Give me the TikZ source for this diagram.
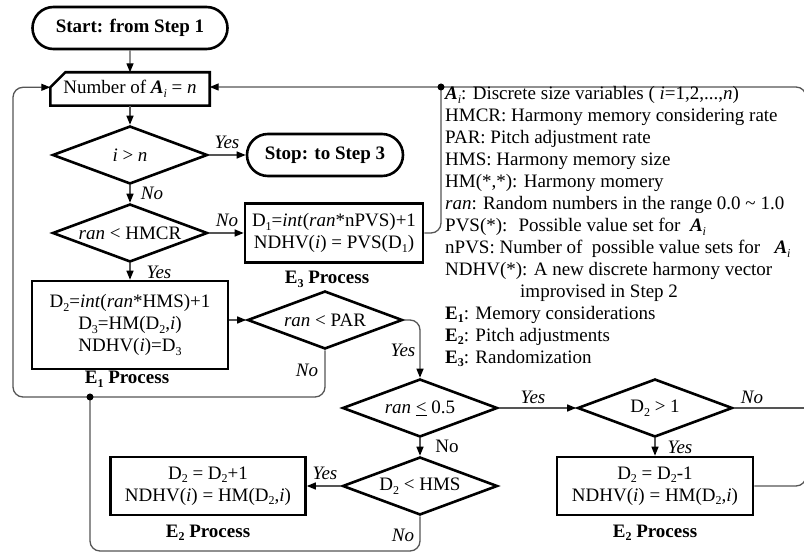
\documentclass[tikz,border=0pt]{standalone}
\usepackage{fontspec}
\setmainfont{Liberation Serif}
\usetikzlibrary{shapes.geometric, shapes.misc, arrows.meta, calc}
\definecolor{linegray}{RGB}{85,85,85}
\newcommand{\dn}[1]{\raisebox{-0.4ex}{\fontsize{12}{12}\selectfont #1}}
\newcommand{\Ai}{\textbf{\textit{A}}\dn{\textit{i}}}
\newcommand{\tdots}{...}
\tikzset{
    termnode/.style={
        rounded rectangle,
        draw, % 粗边框
        line width=2.6pt,
        minimum height=42pt,
        inner sep=0,
        font=\fontsize{19}{22}\selectfont\bfseries
    },
    procnode/.style={
        rectangle,
        draw,
        line width=2.6pt,
        align=center,
        inner sep=0
    },
    decnode/.style={
        diamond,
        draw,
        line width=2.6pt,
        minimum width=155pt,
        minimum height=58pt,
        aspect=2.67,
        inner sep=0
    },
    txtnode/.style={inner sep=0, font=\fontsize{19}{22}\selectfont\itshape},
    procname/.style={inner sep=0, anchor=base, font=\fontsize{19}{22}\selectfont\bfseries},
    legnode/.style={anchor=base west, inner sep=0},
    flow/.style={draw=linegray, line width=1.3pt, -{Triangle[length=9pt, width=7pt, color=black]}},
    link/.style={draw=linegray, line width=1.3pt}
}
\begin{document}
\begin{tikzpicture}[
                x=1pt, y=-1pt,
                every node/.style={font=\fontsize{19}{22}\selectfont}
            ]
            \useasboundingbox (0,0) rectangle (804,553);
            \clip (0,0) rectangle (804,553);
            % 主流程
            \node[termnode, minimum width=195pt] (start) at (130,28) {Start: from Step 1};
            \node[minimum width=159pt, minimum height=33pt, inner sep=0] (num) at (130,89)
                {Number of \Ai{} = \textit{n}};
            \draw[line width=2.6pt] ($(num.north west)+(15,0)$) -- (num.north east) -- (num.south east)
                -- (num.south west) -- ($(num.north west)+(0,15)$) -- cycle;
            \coordinate (numL) at ($(num.north west)+(0,15)$);
            \coordinate (numR) at ($(num.east)+(0,-2)$);
            \node[decnode] (dn1) at (130,155) {\textit{i} > \textit{n}};
            \node[termnode, minimum width=156pt] (stop) at (325,155) {Stop: to Step 3};
            \node[decnode] (dn2) at (130,233) {\textit{ran} < HMCR};
            \node[procnode, minimum width=178pt, minimum height=59pt] (pr3) at (334,233)
                {D\dn{1}=\textit{int}(\textit{ran}*nPVS)+1\\NDHV(\textit{i}) = PVS(D\dn{1})};
            \node[procnode, minimum width=196pt, minimum height=88pt] (pr1) at (130,325)
                {D\dn{2}=\textit{int}(\textit{ran}*HMS)+1\\D\dn{3}=HM(D\dn{2},\textit{i})\\NDHV(\textit{i})=D\dn{3}};
            \node[decnode] (dn3) at (325,320) {\textit{ran} < PAR};
            \node[decnode] (dn4) at (420,408) {\textit{ran} \underline{<} 0.5};
            \node[decnode] (dn5) at (420,486) {D\dn{2} < HMS};
            \node[procnode, minimum width=195pt, minimum height=58pt] (pr2a) at (208,486)
                {D\dn{2} = D\dn{2}+1\\NDHV(\textit{i}) = HM(D\dn{2},\textit{i})};
            \node[decnode] (dn6) at (655,408) {D\dn{2} > 1};
            \node[procnode, minimum width=196pt, minimum height=58pt] (pr2b) at (655,486)
                {D\dn{2} = D\dn{2}-1\\NDHV(\textit{i}) = HM(D\dn{2},\textit{i})};
            % 过程名称
            \node[procname] (e3) at (327,284) {E\dn{3} Process};
            \node[procname] (e1) at (127,384) {E\dn{1} Process};
            \node[procname] (e2a) at (208,537) {E\dn{2} Process};
            \node[procname] (e2b) at (655,537) {E\dn{2} Process};
            % 连线
            \coordinate (dotT) at (441,87);
            \coordinate (dotL) at (90,397);
            \draw[flow] (start) -- (num);
            \draw[flow] (num) -- (dn1);
            \draw[flow] (dn1) -- (stop);
            \draw[flow] (dn1) -- (dn2);
            \draw[flow] (dn2) -- (pr3);
            \draw[flow] (dn2) -- (pr1);
            \draw[flow] (dn3.west -| pr1.east) -- (dn3.west);
            \draw[flow, rounded corners=10pt] (dn3.south) |- (13,397) |- (numL);
            \draw[flow, rounded corners=10pt] (dn3.east) -| (dn4.north);
            \draw[flow] (dn4) -- (dn5);
            \draw[flow] (dn5) -- (pr2a);
            \draw[link, rounded corners=10pt] (dn5.south) |- (90,551) -- (dotL);
            \draw[flow] (dn4) -- (dn6);
            \draw[flow] (dn6) -- (pr2b);
            \draw[link] (dn6.east) -- (812,408);
            \draw[flow, rounded corners=10pt] (pr2b.east) -| (806,87) -- (numR);
            \draw[link, rounded corners=10pt] (dotT) |- (pr3.east);
            \fill (dotT) circle (3.5pt);
            \fill (dotL) circle (3.5pt);
            % 是/否
            \node[txtnode] (l1) at (227,142) {Yes};
            \node[txtnode] (l2) at (152,193) {No};
            \node[txtnode] (l3) at (227,220) {No};
            \node[txtnode] (l4) at (159,272) {Yes};
            \node[txtnode] (l5) at (307,370) {No};
            \node[txtnode] (l6) at (403,350) {Yes};
            \node[txtnode] (l7) at (447,446) {\textup{No}};
            \node[txtnode] (l8) at (325,473) {Yes};
            \node[txtnode] (l9) at (403,535) {No};
            \node[txtnode] (l10) at (533,397) {Yes};
            \node[txtnode] (l11) at (752,397) {No};
            \node[txtnode] (l12) at (680,447) {Yes};
            % 符号说明
            \foreach \txt [count=\k] in {
                {\Ai: Discrete size variables ( \textit{i}=1,2,\tdots,\textit{n})},
                {HMCR: Harmony memory considering rate},
                {PAR: Pitch adjustment rate},
                {HMS: Harmony memory size},
                {HM(*,*): Harmony momery},
                {\textit{ran}: Random numbers in the range 0.0 \textasciitilde{} 1.0},
                {PVS(*):~ Possible value set for~ \Ai},
                {nPVS: Number of~ possible value sets for~~ \Ai},
                {NDHV(*): A new discrete harmony vector},
                {\hspace*{75pt}improvised in Step 2},
                {\textbf{E\dn{1}}: Memory considerations},
                {\textbf{E\dn{2}}: Pitch adjustments},
                {\textbf{E\dn{3}}: Randomization}
            }
                \node[legnode] (leg\k) at (445,{100+21.95*(\k-1)}) {\txt};
\end{tikzpicture}
\end{document}
